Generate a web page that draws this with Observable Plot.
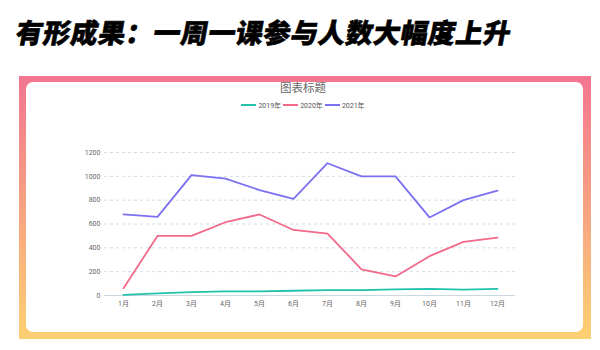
<!DOCTYPE html>
<html><head><meta charset="utf-8">
<script src="https://cdn.jsdelivr.net/npm/d3@7"></script>
<script src="https://cdn.jsdelivr.net/npm/@observablehq/plot@0.6"></script>
<style>
html,body{margin:0;padding:0;background:#fff;}
#root{position:relative;width:600px;height:350px;overflow:hidden;font-family:"Noto Sans CJK SC","Noto Sans",sans-serif;}
#title{position:absolute;left:13px;top:13px;font-size:27px;font-weight:900;color:#000;letter-spacing:0.5px;transform:skewX(-10deg);transform-origin:left bottom;white-space:nowrap;line-height:38px;-webkit-text-stroke:0.6px #000;}
#frame{position:absolute;left:19px;top:76px;width:572px;height:263px;background:linear-gradient(#f27590,#fcd072);}
#inner{position:absolute;left:26px;top:82px;width:557px;height:250px;background:#fff;border-radius:7px;}
#ctitle{position:absolute;left:0;width:606px;top:79px;text-align:center;font-size:11.5px;color:#666;}
#legend{position:absolute;left:0;width:606px;top:100px;text-align:center;font-size:7px;color:#555;font-family:"Roboto","Noto Sans CJK SC",sans-serif;}
#legend span.item{display:inline-flex;align-items:center;margin:0 1px;}
#legend span.sw{display:inline-block;width:15px;height:2px;margin-right:2px;}
#chart{position:absolute;left:0;top:120px;}
</style></head>
<body><div id="root">
<div id="title"></div>
<div id="frame"></div>
<div id="inner"></div>
<div id="ctitle"></div>
<div id="legend"></div>
<div id="chart"></div>
</div>
<script>
const headline = "有形成果：一周一课参与人数大幅度上升";
const chartTitle = "图表标题";
const months = ["1月","2月","3月","4月","5月","6月","7月","8月","9月","10月","11月","12月"];
const seriesNames = ["2019年","2020年","2021年"];
const colors = ["#21c1ab","#f2698a","#7b70f2"];
const y2019 = [5,18,28,35,35,40,45,45,52,55,50,55];
const y2020 = [60,500,500,615,680,550,520,220,160,330,450,485];
const y2021 = [680,660,1010,980,885,810,1110,1000,1000,655,800,880];
const yTicks = [0,200,400,600,800,1000,1200];

document.getElementById("title").textContent = headline;
document.getElementById("ctitle").textContent = chartTitle;
const lg = document.getElementById("legend");
seriesNames.forEach((n,i)=>{
  const it = document.createElement("span"); it.className="item";
  const sw = document.createElement("span"); sw.className="sw"; sw.style.background=colors[i];
  it.appendChild(sw); it.appendChild(document.createTextNode(n)); lg.appendChild(it);
});

const allVals = [y2019,y2020,y2021];
const data = [];
allVals.forEach((arr,si)=>arr.forEach((v,mi)=>data.push({month:months[mi],value:v,series:seriesNames[si]})));

const chart = Plot.plot({
  width:600, height:200,
  marginTop:32, marginBottom:25, marginLeft:104, marginRight:85,
  style:{fontSize:"7px", color:"#666", fontFamily:"Roboto,'Noto Sans CJK SC',sans-serif", background:"transparent"},
  x:{type:"point", domain:months, padding:0.5, label:null},
  y:{domain:[0,1200], ticks:yTicks, label:null},
  color:{domain:seriesNames, range:colors},
  marks:[
    Plot.gridY(yTicks.filter(t=>t>0), {stroke:"#cfdde3", strokeOpacity:1, strokeDasharray:"3,3"}),
    Plot.ruleY([0], {stroke:"#cbd8e0", strokeWidth:1}),
    Plot.axisY({ticks:yTicks, tickSize:0, tickPadding:4, fill:"#666", tickFormat:d3.format("d")}),
    Plot.axisX({tickSize:0, tickPadding:6, fill:"#666"}),
    Plot.lineY(data, {x:"month", y:"value", z:"series", stroke:"series", strokeWidth:1.8})
  ]
});
document.getElementById("chart").appendChild(chart);
</script>
</body></html>
